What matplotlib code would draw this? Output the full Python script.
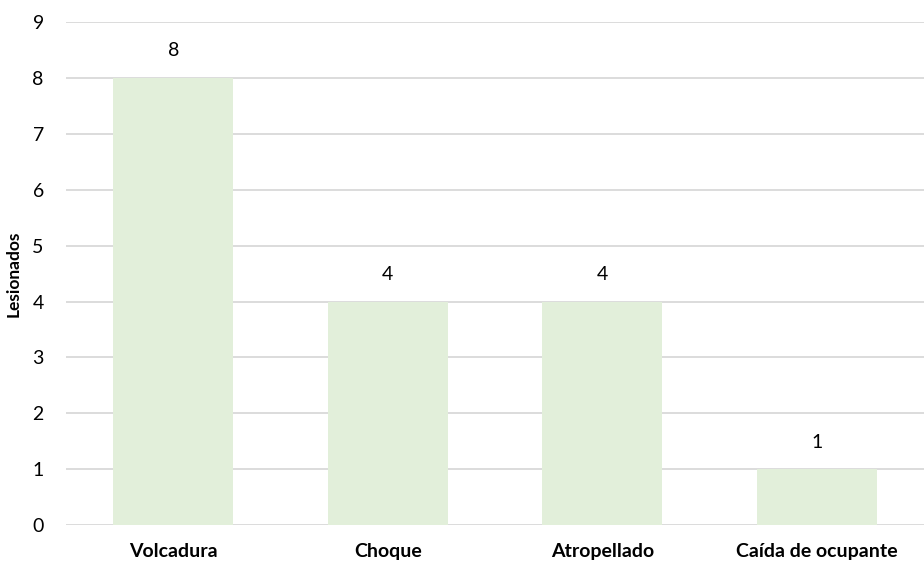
import matplotlib.pyplot as plt

categorias = ["Volcadura", "Choque", "Atropellado", "Caída de ocupante"]
lesionados = [8, 4, 4, 1]

plt.rcParams['font.family'] = ['Lato', 'DejaVu Sans']

fig = plt.figure(figsize=(9.24, 5.72), dpi=100)
ax = fig.add_axes([0.0714, 0.082, 0.9286, 0.8795])

x = range(len(categorias))
bars = ax.bar(x, lesionados, width=0.56, color="#E2EFDA", zorder=2)
for b, v in zip(bars, lesionados):
    ax.text(b.get_x() + b.get_width() / 2, v + 0.33, str(v),
            ha="center", va="bottom", fontsize=14, color="#000000")

ax.set_xlim(-0.5, len(categorias) - 0.5)
ax.set_ylim(0, 9)
ax.set_yticks(range(0, 10))
ax.set_xticks(list(x))
ax.set_xticklabels(categorias, fontsize=14, fontweight="bold")
ax.tick_params(axis="y", labelsize=14, length=0, pad=16)
ax.tick_params(axis="x", length=0, pad=13)
ax.grid(axis="y", color="#D9D9D9", linewidth=1.3, zorder=0)
for s in ax.spines.values():
    s.set_visible(False)
ax.set_ylabel("Lesionados", fontsize=12.5, fontweight="bold", labelpad=8)

fig.savefig("out.png", dpi=100)
